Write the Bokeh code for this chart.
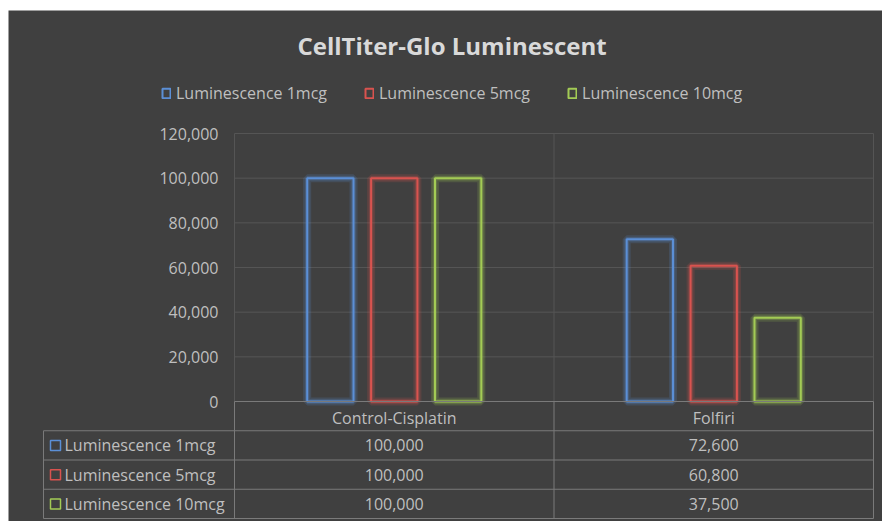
from bokeh.plotting import figure
from bokeh.models import (Range1d, FixedTicker, NumeralTickFormatter, Legend,
                          LegendItem, ColumnDataSource, Spacer, Label)
from bokeh.layouts import column, row
from bokeh.core.properties import value
from bokeh.embed import file_html
from bokeh.resources import INLINE

# ---------------- data ----------------
chart_title = "CellTiter-Glo Luminescent"
categories = ["Control-Cisplatin", "Folfiri"]
series_names = ["Luminescence 1mcg", "Luminescence 5mcg", "Luminescence 10mcg"]
lum_1mcg = [100000, 72600]
lum_5mcg = [100000, 60800]
lum_10mcg = [100000, 37500]
y_ticks = [0, 20000, 40000, 60000, 80000, 100000, 120000]

series = [lum_1mcg, lum_5mcg, lum_10mcg]
colors = ["#5B8FD6", "#D9534F", "#A3CB55"]

BG = "#404040"
GRID = "#555555"
TABLE = "#7a7a7a"
TXT = "#bfbfbf"
FONT = "Open Sans"

# ---------------- layout (figure pixels) ----------------
PAD_L, PAD_T = 8, 10                  # white strip left / top of the chart
W, H = 874, 511                       # the frame fills the whole figure
X0PX, X1PX = 226, 865                 # category span edges
Y0PX, YTPX = 391, 123                 # y = 0 and y = top tick
ROW_PX = 29.25                        # data-table row height
HDR_PX = 35                           # left edge of the row-header column
TITLE_X, TITLE_Y = 443.5, 35          # title centre
LEG_X, LEG_BOTTOM = 153, 94           # legend left / bottom

ncat = len(categories)
sx = (X1PX - X0PX) / float(ncat)
sy = (Y0PX - YTPX) / float(y_ticks[-1])
x_start = 0.5 - X0PX / sx
x_end = 0.5 + ncat + (W - X1PX) / sx
y_end = y_ticks[-1] + YTPX / sy
y_start = -(H - Y0PX) / sy
row_h = ROW_PX / sy
hdr_left = 0.5 - (X0PX - HDR_PX) / sx
right_edge = 0.5 + ncat

p = figure(width=W, height=H, x_range=Range1d(x_start, x_end),
           y_range=Range1d(y_start, y_end), output_backend="svg",
           tools="", toolbar_location=None, min_border_left=0,
           min_border_right=0, min_border_top=0, min_border_bottom=0,
           background_fill_color=BG, border_fill_color=BG,
           outline_line_color=None)
p.title.text = ""
p.title.visible = False

# title (inside the frame so the frame can fill the whole figure)
p.add_layout(Label(x=0.5 + (TITLE_X - X0PX) / sx, y=(Y0PX - TITLE_Y) / sy,
                   text=chart_title, text_font=FONT, text_font_size="24px",
                   text_font_style="bold", text_color="#d9d9d9",
                   text_align="center", text_baseline="middle"))

# grids off; horizontal gridlines drawn at the tick values
p.xgrid.visible = False
p.ygrid.visible = False
gy = y_ticks[1:]
p.segment(x0=[0.5] * len(gy), y0=gy, x1=[right_edge] * len(gy), y1=gy,
          line_color=GRID, line_width=1)

# y axis
p.yaxis.fixed_location = 0.5
p.yaxis.ticker = FixedTicker(ticks=y_ticks)
p.yaxis.formatter = NumeralTickFormatter(format="0,0")
p.yaxis.axis_line_color = None
p.yaxis.major_tick_line_color = None
p.yaxis.minor_tick_line_color = None
p.yaxis.major_tick_in = 0
p.yaxis.major_tick_out = 0
p.yaxis.major_label_standoff = 16
p.yaxis.major_label_text_font = FONT
p.yaxis.major_label_text_font_size = "16px"
p.yaxis.major_label_text_color = TXT

# x axis (category labels inside the data-table header row)
cat_x = [i + 1 for i in range(ncat)]
p.xaxis.fixed_location = 0
p.xaxis.ticker = FixedTicker(ticks=cat_x)
p.xaxis.major_label_overrides = {c: n for c, n in zip(cat_x, categories)}
p.xaxis.axis_line_color = None
p.xaxis.major_tick_line_color = None
p.xaxis.minor_tick_line_color = None
p.xaxis.major_tick_in = 0
p.xaxis.major_tick_out = 0
p.xaxis.major_label_standoff = 5
p.xaxis.major_label_text_font = FONT
p.xaxis.major_label_text_font_size = "16px"
p.xaxis.major_label_text_color = TXT

# plot-area vertical borders
bx = [0.5 + i for i in range(ncat + 1)]
p.segment(x0=bx, y0=[0] * len(bx), x1=bx, y1=[y_ticks[-1]] * len(bx),
          line_color=GRID, line_width=1)

# bars (outline with a soft glow)
offsets = [-0.2, 0.0, 0.2]
bar_w = 0.145
renderers = []
for name, vals, col, off in zip(series_names, series, colors, offsets):
    src = ColumnDataSource(dict(x=[c + off for c in cat_x], top=vals))
    p.vbar(x="x", top="top", bottom=0, width=bar_w, source=src,
           fill_color=None, line_color=col, line_width=8, line_alpha=0.18)
    p.vbar(x="x", top="top", bottom=0, width=bar_w, source=src,
           fill_color=None, line_color=col, line_width=4.5, line_alpha=0.25)
    r = p.vbar(x="x", top="top", bottom=0, width=bar_w, source=src,
               fill_color=None, line_color=col, line_width=2)
    renderers.append(r)

# data table lines
nrows = len(series) + 1
p.segment(x0=bx, y0=[0] * len(bx), x1=bx, y1=[-nrows * row_h] * len(bx),
          line_color=TABLE, line_width=1)
p.segment(x0=[hdr_left], y0=[-row_h], x1=[hdr_left], y1=[-nrows * row_h],
          line_color=TABLE, line_width=1)
p.segment(x0=[0.5], y0=[0], x1=[right_edge], y1=[0], line_color=TABLE, line_width=1)
hy = [-k * row_h for k in range(1, nrows + 1)]
p.segment(x0=[hdr_left] * len(hy), y0=hy, x1=[right_edge] * len(hy), y1=hy,
          line_color=TABLE, line_width=1)

# row headers
row_y = [-(k + 1.5) * row_h for k in range(len(series))]
p.scatter(x=[hdr_left + 12 / sx] * len(series), y=row_y, marker="square", size=10,
          fill_color=None, line_color=colors, line_width=1.5)
p.text(x=[hdr_left + 21 / sx] * len(series), y=row_y, text=series_names,
       text_font=value(FONT), text_font_size="16px", text_color=TXT,
       text_align="left", text_baseline="middle")

# cell values
cx, cy, ct = [], [], []
for k, vals in enumerate(series):
    for c, v in zip(cat_x, vals):
        cx.append(c)
        cy.append(row_y[k])
        ct.append("{:,}".format(v))
p.text(x=cx, y=cy, text=ct, text_font=value(FONT), text_font_size="16px",
       text_color=TXT, text_align="center", text_baseline="middle")

# legend
legend = Legend(items=[LegendItem(label=n, renderers=[r]) for n, r in zip(series_names, renderers)],
                location=(LEG_X, H - LEG_BOTTOM), orientation="horizontal",
                background_fill_alpha=0, border_line_color=None,
                label_text_font=FONT, label_text_font_size="16px",
                label_text_color=TXT, glyph_width=10, glyph_height=12,
                label_standoff=5, spacing=37, padding=0, margin=0,
                label_height=20)
p.add_layout(legend)

page = column(Spacer(width=W + PAD_L, height=PAD_T),
              row(Spacer(width=PAD_L, height=H), p))

open("out.html", "w").write(file_html(page, INLINE))
